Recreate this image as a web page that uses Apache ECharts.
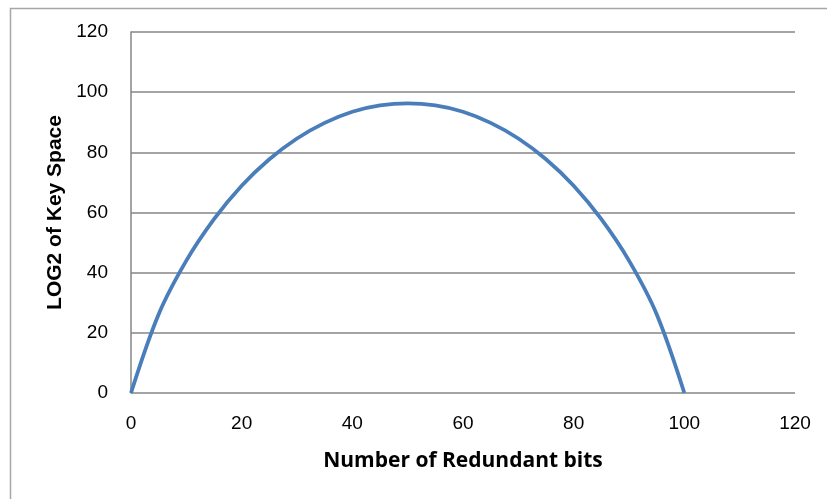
<!DOCTYPE html>
<html>
<head>
<meta charset="utf-8">
<script src="https://cdn.jsdelivr.net/npm/echarts@6/dist/echarts.min.js"></script>
<style>html,body{margin:0;padding:0;background:#fff}#c{width:827px;height:499px}</style>
</head>
<body>
<div id="c"></div>
<script>
// Data
var redundantBits = [0, 5, 10, 15, 20, 25, 30, 35, 40, 45, 50, 55, 60, 65, 70, 75, 80, 85, 90, 95, 100];
var log2KeySpace = [0, 26.2, 44.0, 57.8, 68.9, 77.7, 84.6, 89.8, 93.5, 95.6, 96.3, 95.6, 93.5, 89.8, 84.6, 77.7, 68.9, 57.8, 44.0, 26.2, 0];
var xTitle = 'Number of Redundant bits';
var yTitle = 'LOG2 of Key Space';

var points = redundantBits.map(function (x, i) { return [x, log2KeySpace[i]]; });

var chart = echarts.init(document.getElementById('c'), null, {renderer: 'canvas'});
var labelFont = {fontFamily: 'Liberation Sans', fontSize: 19, color: '#000'};
chart.setOption({
  animation: false,
  graphic: [{
    type: 'rect', left: 8, top: 6, shape: {width: 830, height: 500},
    style: {fill: 'none', stroke: '#a6a6a6', lineWidth: 1.5}, silent: true
  }],
  grid: {left: 131, right: 32, top: 32, bottom: 106, containLabel: false},
  xAxis: {
    type: 'value', min: 0, max: 120, interval: 20,
    name: xTitle, nameLocation: 'middle', nameGap: 58,
    nameTextStyle: {fontFamily: 'Open Sans', fontWeight: 'bold', fontSize: 21, color: '#000'},
    axisLine: {show: false}, axisTick: {show: false},
    axisLabel: Object.assign({margin: 21}, labelFont),
    splitLine: {show: false}
  },
  yAxis: {
    type: 'value', min: 0, max: 120, interval: 20,
    name: yTitle, nameLocation: 'middle', nameGap: 63, nameRotate: 90,
    nameTextStyle: {fontFamily: 'Liberation Sans', fontWeight: 'bold', fontSize: 21, color: '#000'},
    axisLine: {show: true, lineStyle: {color: '#868686', width: 1.5}},
    axisTick: {show: false},
    axisLabel: Object.assign({margin: 23}, labelFont),
    splitLine: {show: true, lineStyle: {color: '#868686', width: 1.5}}
  },
  series: [{
    type: 'line', data: points, smooth: 0.35, showSymbol: false,
    lineStyle: {color: '#4A7EBB', width: 3.8}
  }]
});
</script>
</body>
</html>
